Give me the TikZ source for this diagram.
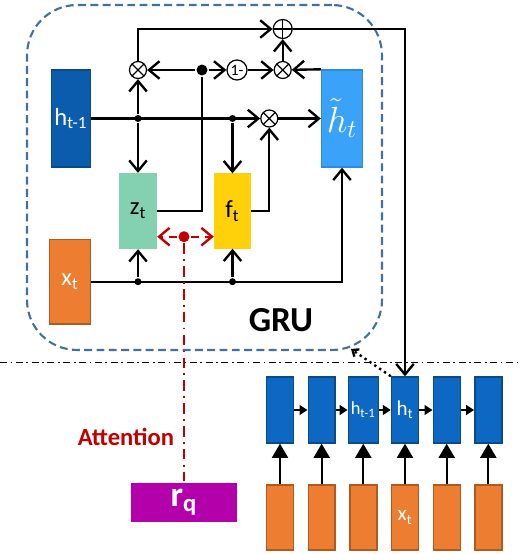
\documentclass[tikz,border=0pt]{standalone}
\usepackage{fontspec}
\setmainfont{Carlito}
\usetikzlibrary{arrows.meta,positioning}

\definecolor{grublue}{HTML}{41719C}
\definecolor{hdark}{HTML}{0B5CAD}
\definecolor{hchain}{HTML}{0C68C2}
\definecolor{hborder}{HTML}{0A4A86}
\definecolor{hlight}{HTML}{3BA2FA}
\definecolor{hlborder}{HTML}{2A8BE0}
\definecolor{zgreen}{HTML}{84D1B1}
\definecolor{fyellow}{HTML}{FFD10A}
\definecolor{xorange}{HTML}{ED7D31}
\definecolor{xborder}{HTML}{AE5A21}
\definecolor{attred}{HTML}{C00000}
\definecolor{rqmag}{HTML}{B400AA}

\begin{document}
\begin{tikzpicture}[x=0.02cm,y=-0.02cm,line width=1.35pt,
										>={Straight Barb[length=6pt,width=10pt]}]
	\tikzstyle{unit}=[draw,line width=0.8pt,inner sep=0pt,text=white,font=\fontsize{14}{16}\selectfont]
	\tikzstyle{cell}=[unit,fill=hchain,draw=hborder,minimum height=1.32cm]
	\tikzstyle{inp}=[unit,fill=xorange,draw=xborder,minimum width=0.54cm,minimum height=1.3cm,font=\fontsize{12}{14}\selectfont]
	\tikzstyle{mult}=[circle,draw,line width=0.7pt,fill=white,inner sep=0pt,minimum size=0.34cm,
		path picture={\draw[line width=0.7pt] (path picture bounding box.north west) -- (path picture bounding box.south east)
			(path picture bounding box.north east) -- (path picture bounding box.south west);}]
	\tikzstyle{summ}=[circle,draw,line width=0.7pt,fill=white,inner sep=0pt,minimum size=0.38cm,
		path picture={\draw[line width=0.7pt] (path picture bounding box.north) -- (path picture bounding box.south)
			(path picture bounding box.east) -- (path picture bounding box.west);}]
	\tikzstyle{gate}=[circle,draw,line width=0.7pt,fill=white,inner sep=0pt,minimum size=0.4cm,font=\fontsize{9}{9}\selectfont]
	\tikzstyle{junc}=[circle,fill,inner sep=0pt,minimum size=0.14cm]
	\tikzstyle{attarrow}=[attred,dash pattern=on 5pt off 3pt,>={Straight Barb[length=6pt,width=10pt]}]

	\useasboundingbox (0,0) rectangle (521,554);

	% GRU cell
	\node[draw=grublue,line width=1.2pt,dash pattern=on 4.5pt off 2.5pt,rounded corners=1cm,
				minimum width=7.1cm,minimum height=6.9cm] (gru) at (204.5,177.5) {};
	\node[font=\fontsize{20}{22}\selectfont\bfseries] (grulabel) at (281,320) {GRU};

	\node[unit,fill=hdark,draw=hborder,minimum width=0.78cm,minimum height=1.94cm] (hprev) at (71,118.5) {h\textsubscript{t-1}};
	\node[unit,fill=hlight,draw=hlborder,minimum width=0.82cm,minimum height=1.94cm,
				font=\fontsize{20}{22}\selectfont] (htil) at (342,118.5) {$\tilde{h}_t$};
	\node[unit,fill=zgreen,draw=zgreen,text=black,minimum width=0.74cm,minimum height=1.5cm] (zt) at (138,211) {z\textsubscript{t}};
	\node[unit,fill=fyellow,draw=fyellow,text=black,minimum width=0.72cm,minimum height=1.48cm] (ft) at (232.5,211) {f\textsubscript{t}};
	\node[unit,fill=xorange,draw=xborder,minimum width=0.82cm,minimum height=1.7cm] (xt) at (70,281.7) {x\textsubscript{t}};

	\node[mult] (mulL) at (138,70) {};
	\node[junc,minimum size=0.22cm] (split) at (202,70) {};
	\node[gate] (one) at (237,70) {1-};
	\node[mult] (mulR) at (282.7,70) {};
	\node[summ] (sum) at (282.7,29) {};
	\node[mult] (mulM) at (269.3,118.5) {};
	\node[junc] (j1) at (138,118.5) {};
	\node[junc] (j2) at (232.5,118.5) {};
	\node[junc] (j3) at (138,281.7) {};
	\node[junc] (j4) at (232.5,281.7) {};

	\draw[->] (mulL) |- (sum);
	\draw[->] (split) -- (mulL);
	\draw[->] (split) -- (one);
	\draw[->] (one) -- (mulR);
	\draw[->] (htil.north west) -- (mulR);
	\draw[->] (mulR) -- (sum);
	\draw (zt.east) -| (split);
	\draw[->] (hprev) -- (mulM);
	\draw[->] (j1) -- (mulL);
	\draw[->] (j1) -- (zt);
	\draw[->] (j2) -- (ft);
	\draw[->] (mulM) -- (htil);
	\draw[->] (ft.east) -| (mulM);
	\draw[->] (xt) -| (htil);
	\draw[->] (j3) -- (zt);
	\draw[->] (j4) -- (ft);

	% attention
	\node[junc,fill=attred,minimum size=0.22cm] (att) at (184,236.7) {};
	\draw[attarrow,->] (att) -- (zt.east |- att);
	\draw[attarrow,->] (att) -- (ft.west |- att);
	\node[fill=rqmag,minimum width=2.12cm,minimum height=0.78cm,text=white,
				font=\fontsize{20}{22}\selectfont\bfseries] (rq) at (184,502) {r\textsubscript{q}};
	\draw[attred,dash pattern=on 6pt off 3pt on 1pt off 3pt] (att) -- (rq);
	\node[anchor=east,text=attred,font=\fontsize{14}{16}\selectfont\bfseries] (attlabel) at (181,437) {Attention};

	% divider
	\draw[line width=0.6pt,dash pattern=on 4pt off 2pt on 1pt off 2pt] (0,362.7) -- (521,362.7);

	% unrolled chain
	\foreach \i/\x/\w/\htxt/\xtxt in {1/280/0.54/{}/{},2/321.7/0.54/{}/{},
			3/363.3/0.6/{\fontsize{10.5}{12}\selectfont h\textsubscript{t-1}}/{},
			4/405/0.54/{\fontsize{12}{14}\selectfont h\textsubscript{t}}/{x\textsubscript{t}},
			5/446.7/0.54/{}/{},6/488.3/0.54/{}/{}} {
		\node[cell,minimum width=\w cm] (h\i) at (\x,410) {\htxt};
		\node[inp] (x\i) at (\x,517.5) {\xtxt};
		\draw[-{Triangle[length=8pt,width=9pt]}] (x\i) -- (h\i);
	}
	\foreach \a/\b in {1/2,2/3,3/4,4/5,5/6}
		\draw[-{Triangle[length=4.5pt,width=5.5pt]}] (h\a) -- (h\b);

	\draw[->] (sum) -| (h4);
	\coordinate (grucorner) at (351,349);
	\draw[dotted,-{Straight Barb[length=3pt,width=5pt]}] (h4.north west) -- (grucorner);
\end{tikzpicture}
\end{document}
